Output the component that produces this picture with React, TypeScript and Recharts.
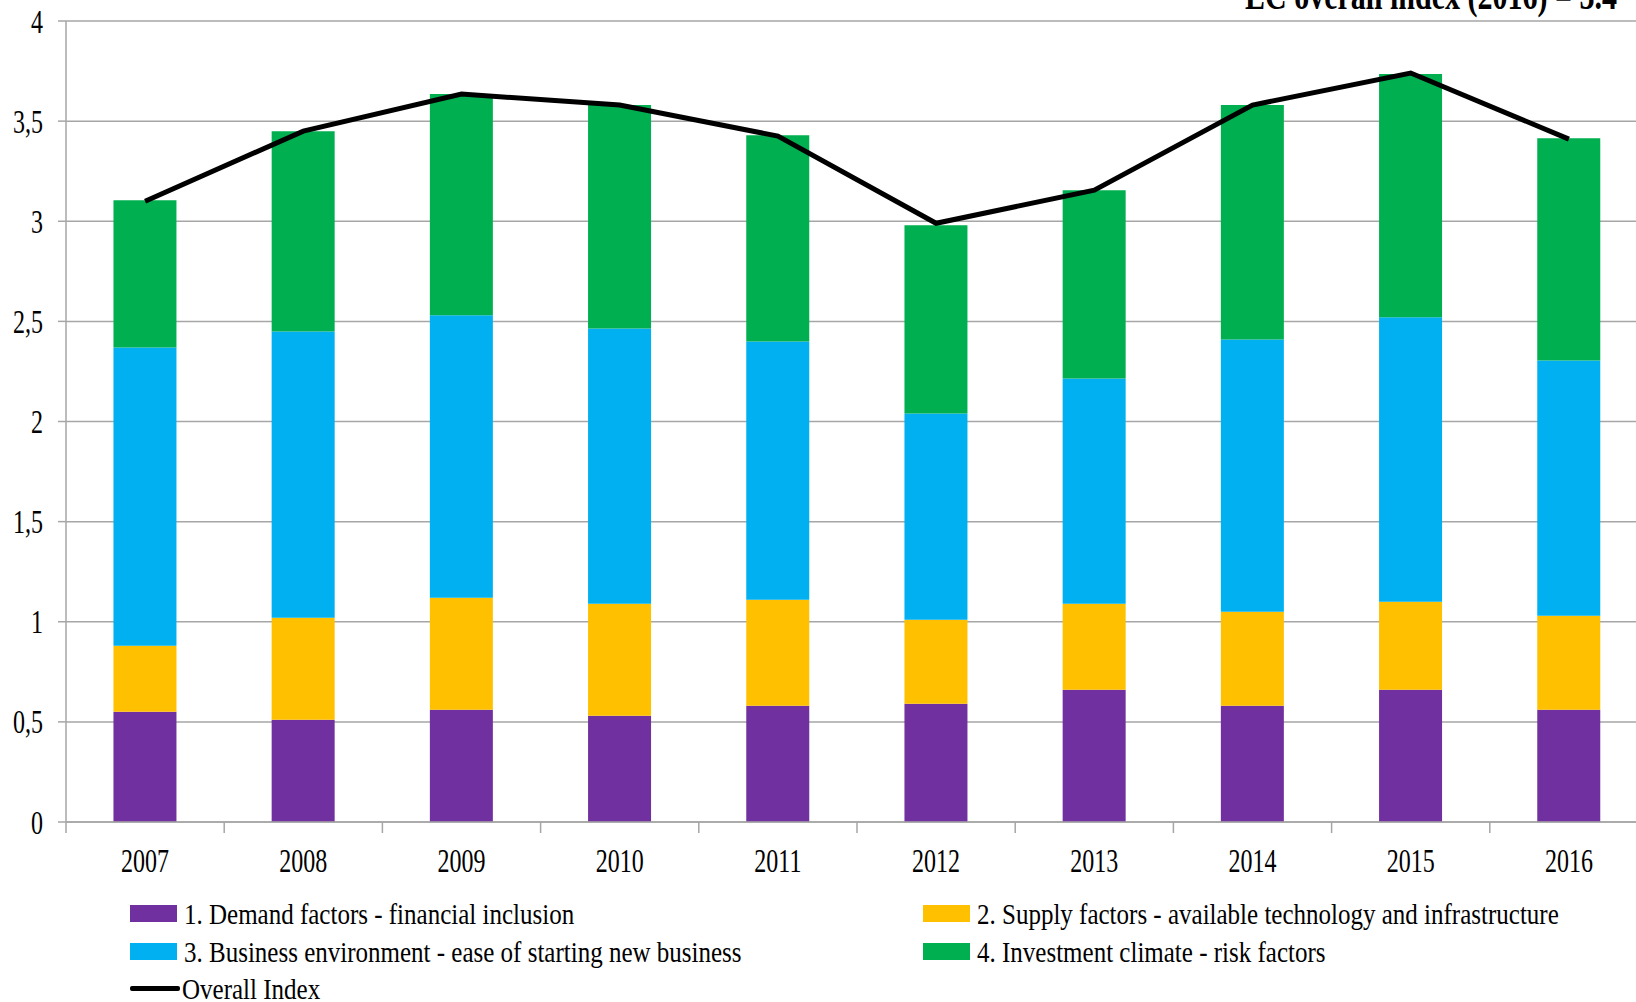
import { Bar, CartesianGrid, ComposedChart, Line, XAxis, YAxis } from "recharts"

const years = ["2007", "2008", "2009", "2010", "2011", "2012", "2013", "2014", "2015", "2016"]
const demand = [0.55, 0.51, 0.56, 0.53, 0.58, 0.59, 0.66, 0.58, 0.66, 0.56]
const supply = [0.33, 0.51, 0.56, 0.56, 0.53, 0.42, 0.43, 0.47, 0.44, 0.47]
const business = [1.49, 1.43, 1.41, 1.375, 1.29, 1.03, 1.125, 1.36, 1.42, 1.275]
const investment = [0.735, 1.0, 1.105, 1.115, 1.03, 0.94, 0.94, 1.17, 1.215, 1.11]
const overall = [3.1, 3.45, 3.635, 3.58, 3.425, 2.99, 3.155, 3.58, 3.74, 3.41]
const yTicks = [0, 0.5, 1, 1.5, 2, 2.5, 3, 3.5, 4]

const series = [
  { key: "demand", name: "1. Demand factors - financial inclusion", color: "#7030A0" },
  { key: "supply", name: "2. Supply factors - available technology and infrastructure", color: "#FFC000" },
  { key: "business", name: "3. Business environment - ease of starting new business", color: "#00B0F0" },
  { key: "investment", name: "4. Investment climate - risk factors", color: "#00B050" },
]

const data = years.map((year, i) => ({
  year,
  demand: demand[i],
  supply: supply[i],
  business: business[i],
  investment: investment[i],
  overall: overall[i],
}))

const FONT = "'Liberation Serif', 'Times New Roman', serif"
const GRID = "#a6a6a6"
const STRETCH = 1.38

function YTick(props: any) {
  const { x, y, payload } = props
  return (
    <g transform={`translate(${x},${y}) scale(1,${STRETCH})`}>
      <text x={0} y={0} dy="0.35em" textAnchor="end" fontSize={24} fontFamily={FONT} fill="#000">
        {String(payload.value).replace(".", ",")}
      </text>
    </g>
  )
}

// year label plus Excel-style tick marks on the category edges
function XTick(props: any) {
  const { x, y, payload, index, visibleTicksCount } = props
  const half = payload.offset || 0
  const last = index === visibleTicksCount - 1
  return (
    <g>
      <line x1={x - half} x2={x - half} y1={y} y2={y + 11} stroke={GRID} strokeWidth={1.5} />
      {last && <line x1={x + half} x2={x + half} y1={y} y2={y + 11} stroke={GRID} strokeWidth={1.5} />}
      <g transform={`translate(${x},${y + 38}) scale(1,${STRETCH})`}>
        <text x={0} y={0} dy="0.35em" textAnchor="middle" fontSize={24} fontFamily={FONT} fill="#000">
          {payload.value}
        </text>
      </g>
    </g>
  )
}

function LegendItem({ color, name, line }: { color: string; name: string; line?: boolean }) {
  return (
    <div style={{ display: "flex", alignItems: "center", height: 37.5 }}>
      {line ? (
        <div style={{ width: 50, height: 5, background: color, marginRight: 2, borderRadius: 2 }} />
      ) : (
        <div style={{ width: 47, height: 17, background: color, marginRight: 7 }} />
      )}
      <span
        style={{
          display: "inline-block",
          transform: "scaleY(1.18)",
          fontSize: 25,
          lineHeight: 1,
          whiteSpace: "nowrap",
        }}
      >
        {name}
      </span>
    </div>
  )
}

export default function App() {
  return (
    <div
      style={{
        position: "absolute",
        left: 0,
        top: 0,
        width: 1636,
        height: 1002,
        overflow: "hidden",
        background: "#fff",
        fontFamily: FONT,
        color: "#000",
      }}
    >
      <svg width={1636} height={30} style={{ position: "absolute", left: 0, top: 0 }}>
        <g transform={`translate(1617,9) scale(1,1.3)`}>
          <text x={0} y={0} textAnchor="end" fontSize={30} fontWeight="bold" fontFamily={FONT} fill="#000">
            EC overall index (2016) = 3.4
          </text>
        </g>
      </svg>

      <div style={{ position: "absolute", left: 0, top: 0 }}>
        <ComposedChart
          width={1648}
          height={1002}
          data={data}
          margin={{ top: 21, right: 0, bottom: 120, left: 8 }}
          barCategoryGap="30%"
        >
          <CartesianGrid vertical={false} stroke={GRID} strokeWidth={1.5} />
          <XAxis
            dataKey="year"
            height={60}
            interval={0}
            tickSize={0}
            tickMargin={0}
            tickLine={false}
            tick={<XTick />}
            axisLine={{ stroke: GRID, strokeWidth: 1.5 }}
          />
          <YAxis
            domain={[0, 4]}
            ticks={yTicks}
            width={58}
            tickSize={8}
            tickMargin={15}
            tick={<YTick />}
            axisLine={{ stroke: GRID, strokeWidth: 1.5 }}
            tickLine={{ stroke: GRID, strokeWidth: 1.5 }}
          />
          {series.map((s) => (
            <Bar
              key={s.key}
              dataKey={s.key}
              name={s.name}
              stackId="a"
              fill={s.color}
              isAnimationActive={false}
            />
          ))}
          <Line
            type="linear"
            dataKey="overall"
            name="Overall Index"
            stroke="#000"
            strokeWidth={5}
            dot={false}
            isAnimationActive={false}
          />
        </ComposedChart>
      </div>

      <div style={{ position: "absolute", left: 130, top: 895 }}>
        <LegendItem color={series[0].color} name={series[0].name} />
        <LegendItem color={series[2].color} name={series[2].name} />
        <LegendItem color="#000" name="Overall Index" line />
      </div>
      <div style={{ position: "absolute", left: 923, top: 895 }}>
        <LegendItem color={series[1].color} name={series[1].name} />
        <LegendItem color={series[3].color} name={series[3].name} />
      </div>
    </div>
  )
}
